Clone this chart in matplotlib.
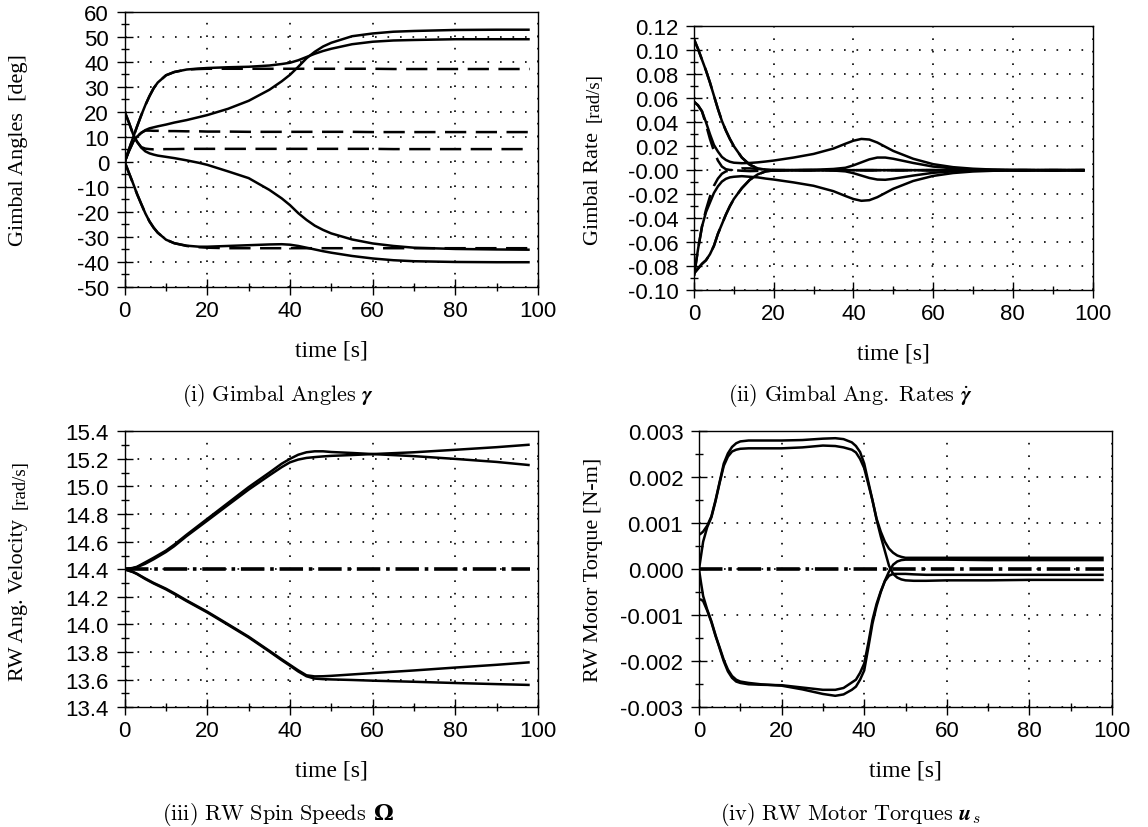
import matplotlib
matplotlib.use("Agg")
import matplotlib.pyplot as plt
from matplotlib.ticker import MultipleLocator, FormatStrFormatter

plt.rcParams['axes.unicode_minus'] = False
plt.rcParams['mathtext.fontset'] = 'cm'

# ---------------- data ----------------
# (i) gimbal angles [deg]
t_ang = [0, 1, 2, 3, 4, 5, 6, 7, 8, 10, 12, 15, 18, 20, 25, 30, 35, 38, 40, 42,
         44, 46, 48, 50, 55, 60, 65, 70, 80, 90, 98]
ang_s1 = [0, 4.8, 9.6, 14.2, 18.6, 22.7, 26.3, 29.4, 31.7, 34.6, 35.9, 36.9, 37.3, 37.5, 37.8, 38.0, 38.5, 39.1, 39.6, 40.6,
          41.9, 43.2, 44.3, 45.2, 47.0, 48.0, 48.5, 48.7, 49.0, 49.0, 49.0]
ang_s2 = [0, 4.2, 7.8, 10.1, 11.6, 12.7, 13.4, 13.8, 14.2, 14.9, 15.7, 16.7, 17.9, 18.7, 21.2, 24.4, 28.8, 32.2, 34.8, 38.0,
          41.4, 44.0, 46.1, 47.6, 50.2, 51.3, 52.0, 52.3, 52.7, 52.8, 52.8]
ang_s3 = [20, 15.8, 11.2, 8.0, 5.7, 4.2, 3.4, 2.9, 2.5, 2.0, 1.5, 0.6, -0.4, -1.2, -3.8, -6.5, -11.2, -14.6, -17.3, -20.5,
          -23.2, -25.5, -27.2, -28.6, -31.0, -32.6, -33.6, -34.3, -34.8, -35.0, -35.1]
ang_s4 = [0, -4.3, -8.5, -12.9, -16.8, -20.6, -23.8, -26.3, -28.3, -31.1, -32.5, -33.5, -33.9, -33.9, -33.6, -33.3, -33.0, -32.9, -33.1, -33.6,
          -34.3, -35.0, -35.7, -36.3, -37.6, -38.6, -39.3, -39.7, -40.0, -40.1, -40.1]
ang_d1 = [0, 4.8, 9.6, 14.2, 18.6, 22.7, 26.3, 29.4, 31.7, 34.6, 35.9, 36.9, 37.1, 37.2, 37.2, 37.2, 37.2, 37.2, 37.2, 37.2,
          37.2, 37.2, 37.2, 37.2, 37.2, 37.2, 37.1, 37.1, 37.1, 37.1, 37.1]
ang_d2 = [0, 4.2, 7.8, 10.1, 11.6, 12.5, 12.5, 12.4, 12.4, 12.3, 12.3, 12.2, 12.2, 12.1, 12.1, 12.0, 12.0, 12.0, 12.0, 12.0,
          12.0, 12.0, 12.0, 12.0, 12.0, 11.9, 11.9, 11.9, 11.9, 11.9, 11.9]
ang_d3 = [20, 15.8, 11.2, 8.0, 5.9, 5.3, 5.1, 5.0, 5.0, 5.1, 5.1, 5.2, 5.2, 5.2, 5.2, 5.2, 5.2, 5.2, 5.2, 5.2,
          5.2, 5.2, 5.2, 5.2, 5.2, 5.2, 5.1, 5.1, 5.1, 5.1, 5.1]
ang_d4 = [0, -4.3, -8.5, -12.9, -16.8, -20.6, -23.8, -26.3, -28.3, -31.1, -32.5, -33.6, -34.1, -34.3, -34.5, -34.5, -34.5, -34.5, -34.5, -34.5,
          -34.5, -34.5, -34.5, -34.5, -34.5, -34.5, -34.5, -34.5, -34.5, -34.5, -34.5]

# (ii) gimbal rates [rad/s]
t_rate = [0, 1, 2, 3, 4, 5, 6, 7, 8, 9, 10, 12, 14, 16, 18, 20, 25, 30, 35, 38,
          40, 42, 44, 46, 48, 50, 55, 60, 65, 70, 75, 80, 90, 98]
rate_a = [0.109, 0.101, 0.092, 0.083, 0.073, 0.062, 0.051, 0.041, 0.033, 0.026, 0.020, 0.0105, 0.0045, 0.0015, 0.0004, 0.0, 0.0, 0.0003, 0.001, 0.002,
          0.004, 0.0065, 0.009, 0.0105, 0.0105, 0.0095, 0.006, 0.003, 0.0015, 0.0005, 0.0002, 0.0, 0.0, 0.0]
rate_b = [0.057, 0.054, 0.049, 0.040, 0.030, 0.021, 0.0155, 0.011, 0.0085, 0.007, 0.0062, 0.0058, 0.006, 0.0065, 0.0072, 0.008, 0.0105, 0.0135, 0.018, 0.022,
          0.0245, 0.026, 0.0255, 0.023, 0.0195, 0.016, 0.0095, 0.005, 0.0025, 0.0012, 0.0005, 0.0002, 0.0, 0.0]
rate_c = [-0.088, -0.066, -0.047, -0.035, -0.027, -0.019, -0.0135, -0.0095, -0.0072, -0.006, -0.0055, -0.005, -0.0055, -0.006, -0.007, -0.0078, -0.0102, -0.013, -0.0175, -0.0215,
          -0.024, -0.0255, -0.025, -0.0225, -0.019, -0.0155, -0.009, -0.0048, -0.0024, -0.0011, -0.0005, -0.0002, 0.0, 0.0]
rate_d = [-0.086, -0.082, -0.078, -0.075, -0.070, -0.063, -0.053, -0.045, -0.037, -0.030, -0.024, -0.015, -0.008, -0.0035, -0.001, -0.0002, 0.0, 0.0, -0.0003, -0.001,
          -0.0025, -0.0045, -0.0065, -0.0078, -0.008, -0.0072, -0.0045, -0.0022, -0.001, -0.0004, -0.0001, 0.0, 0.0, 0.0]
rate_da = [0.109, 0.101, 0.092, 0.083, 0.073, 0.062, 0.051, 0.041, 0.033, 0.026, 0.020, 0.0105, 0.0045, 0.0015, 0.0004, 0.0, 0.0, 0.0, 0.0, 0.0,
           0.0, 0.0, 0.0, 0.0, 0.0, 0.0, 0.0, 0.0, 0.0, 0.0, 0.0, 0.0, 0.0, 0.0]
rate_db = [0.057, 0.054, 0.049, 0.038, 0.026, 0.016, 0.008, 0.003, 0.0008, 0.0002, 0.0, 0.0015, 0.0015, 0.001, 0.0005, 0.0002, 0.0, 0.0, 0.0, 0.0,
           0.0, 0.0, 0.0, 0.0, 0.0, 0.0, 0.0, 0.0, 0.0, 0.0, 0.0, 0.0, 0.0, 0.0]
rate_dc = [-0.088, -0.066, -0.047, -0.033, -0.022, -0.013, -0.007, -0.003, -0.001, -0.0003, 0.0, -0.0005, -0.0008, -0.0006, -0.0003, -0.0001, 0.0, 0.0, 0.0, 0.0,
           0.0, 0.0, 0.0, 0.0, 0.0, 0.0, 0.0, 0.0, 0.0, 0.0, 0.0, 0.0, 0.0, 0.0]
rate_dd = [-0.086, -0.082, -0.078, -0.075, -0.070, -0.063, -0.053, -0.045, -0.037, -0.030, -0.024, -0.015, -0.008, -0.0035, -0.001, -0.0002, 0.0, 0.0, 0.0, 0.0,
           0.0, 0.0, 0.0, 0.0, 0.0, 0.0, 0.0, 0.0, 0.0, 0.0, 0.0, 0.0, 0.0, 0.0]

# (iii) RW spin speeds [rad/s]
t_ws = [0, 2, 3, 5, 7, 10, 12, 15, 20, 25, 30, 35, 38, 40, 42, 44, 46, 48, 50, 55, 60, 70, 80, 90, 98]
ws_1 = [14.4, 14.41, 14.418, 14.45, 14.483, 14.535, 14.578, 14.65, 14.765, 14.88, 14.995, 15.1, 15.165, 15.2, 15.23, 15.248, 15.255, 15.255, 15.25, 15.243, 15.235, 15.22, 15.2, 15.178, 15.155]
ws_2 = [14.4, 14.408, 14.415, 14.44, 14.472, 14.525, 14.567, 14.64, 14.752, 14.865, 14.977, 15.08, 15.14, 15.175, 15.195, 15.207, 15.213, 15.218, 15.222, 15.228, 15.235, 15.248, 15.266, 15.285, 15.303]
ws_3 = [14.4, 14.38, 14.366, 14.33, 14.298, 14.255, 14.222, 14.17, 14.088, 13.998, 13.907, 13.805, 13.742, 13.702, 13.66, 13.625, 13.608, 13.604, 13.602, 13.598, 13.593, 13.585, 13.576, 13.568, 13.562]
ws_4 = [14.4, 14.382, 14.368, 14.334, 14.302, 14.26, 14.227, 14.175, 14.093, 14.003, 13.912, 13.81, 13.748, 13.708, 13.668, 13.632, 13.624, 13.625, 13.628, 13.638, 13.648, 13.667, 13.688, 13.708, 13.726]
t_ws_ref = [0, 98]
ws_ref = [14.4, 14.4]

# (iv) RW motor torques [N-m]
t_tq = [0, 0.5, 1, 2, 3, 4, 5, 6, 7, 8, 9, 10, 12, 15, 20, 25, 30, 33, 35, 37,
        38, 39, 40, 41, 42, 43, 44, 45, 46, 47, 48, 49, 50, 52, 55, 60, 70, 80, 90, 98]
tq_1 = [0.00075, 0.00078, 0.00082, 0.00095, 0.00115, 0.0015, 0.0019, 0.0023, 0.00252, 0.00266, 0.00274, 0.00278, 0.0028, 0.0028, 0.0028, 0.00281, 0.00284, 0.00285, 0.00283, 0.00276,
        0.00268, 0.00255, 0.0023, 0.0019, 0.0015, 0.0011, 0.00082, 0.0006, 0.00045, 0.00036, 0.0003, 0.00027, 0.00025, 0.00025, 0.00025, 0.00025, 0.00025, 0.00025, 0.00025, 0.00025]
tq_2 = [0.0, 0.0003, 0.0006, 0.00092, 0.00113, 0.00148, 0.00188, 0.00225, 0.00245, 0.00256, 0.0026, 0.00262, 0.00263, 0.00263, 0.00263, 0.00265, 0.00269, 0.00268, 0.00265, 0.0026,
        0.00254, 0.0024, 0.0022, 0.00185, 0.0015, 0.00108, 0.00072, 0.0004, 0.00008, -0.0001, -0.00018, -0.00022, -0.00024, -0.00025, -0.00025, -0.00024, -0.00024, -0.00023, -0.00023, -0.00023]
tq_3 = [-0.00065, -0.00066, -0.00069, -0.0009, -0.00115, -0.00145, -0.0017, -0.00197, -0.00218, -0.00232, -0.0024, -0.00244, -0.00247, -0.0025, -0.00253, -0.00261, -0.00271, -0.00275, -0.00272, -0.00262,
        -0.00255, -0.0024, -0.0022, -0.0017, -0.00118, -0.0008, -0.0005, -0.00025, -0.00005, 0.0001, 0.00017, 0.0002, 0.00021, 0.00021, 0.00021, 0.00021, 0.0002, 0.0002, 0.0002, 0.0002]
tq_4 = [0.0, -0.0003, -0.00058, -0.00088, -0.00113, -0.00143, -0.00172, -0.002, -0.00222, -0.00236, -0.00244, -0.00247, -0.0025, -0.00251, -0.00252, -0.00257, -0.00262, -0.00262, -0.00258, -0.00246,
        -0.0024, -0.00225, -0.00205, -0.0016, -0.0011, -0.00075, -0.00048, -0.00026, -0.00014, -0.0001, -0.0001, -0.0001, -0.0001, -0.00011, -0.00012, -0.00012, -0.00012, -0.00012, -0.00012, -0.00012]
t_tq_ref = [0, 98]
tq_ref = [0.0, 0.0]

xticks = [0, 20, 40, 60, 80, 100]

# y-label pieces: (text, fontsize)
ylabels = [[("Gimbal Angles  [deg]", 16)],
           [("Gimbal Rate", 16), ("[rad/s]", 13.5)],
           [("RW Ang. Velocity", 16), ("[rad/s]", 13.5)],
           [("RW Motor Torque [N-m]", 16)]]
# captions: (math text, trailing bold symbol drawn separately or None)
captions = [(r"$\mathrm{(i)\ Gimbal\ Angles}\ \boldsymbol{\gamma}$", None),
            (r"$\mathrm{(ii)\ Gimbal\ Ang.\ Rates}\ \dot{\boldsymbol{\gamma}}$", None),
            (r"$\mathrm{(iii)\ RW\ Spin\ Speeds}$", "Ω"),
            (r"$\mathrm{(iv)\ RW\ Motor\ Torques}\ \boldsymbol{u}_s$", None)]

# ---------------- figure ----------------
W, H = 1148, 828
fig = plt.figure(figsize=(W / 100, H / 100), dpi=100)

def rect(x0, x1, y0, y1):
    return [x0 / W, 1 - y1 / H, (x1 - x0) / W, (y1 - y0) / H]

boxes = [(124.7, 538, 12.7, 288.0), (694, 1092.5, 27, 291.3),
         (124.5, 538, 432.3, 708.3), (699, 1112, 432.3, 708.3)]
axs = [fig.add_axes(rect(*b)) for b in boxes]

SANS = "Liberation Sans"
SERIF = "Liberation Serif"
solid = dict(color="black", lw=1.8, solid_capstyle="butt", zorder=3)
dashed = dict(color="black", lw=1.8, ls=(0, (8.5, 3.8)), zorder=3)
dashdot = dict(color="black", lw=2.6, ls=(0, (6.5, 1.6, 1.0, 1.6)), zorder=3)

ax = axs[0]
for s in (ang_d1, ang_d2, ang_d3, ang_d4):
    ax.plot(t_ang, s, **dashed)
for s in (ang_s1, ang_s2, ang_s3, ang_s4):
    ax.plot(t_ang, s, **solid)
ax.set_ylim(-50, 60)
ax.yaxis.set_major_locator(MultipleLocator(10))
ax.yaxis.set_minor_locator(MultipleLocator(5))
ax.yaxis.set_major_formatter(FormatStrFormatter("%d"))

ax = axs[1]
for s in (rate_da, rate_db, rate_dc, rate_dd):
    ax.plot(t_rate, s, **dashed)
for s in (rate_a, rate_b, rate_c, rate_d):
    ax.plot(t_rate, s, **solid)
ax.set_ylim(-0.10, 0.12)
ax.yaxis.set_major_locator(MultipleLocator(0.02))
ax.yaxis.set_minor_locator(MultipleLocator(0.01))
ax.yaxis.set_major_formatter(FormatStrFormatter("%.2f"))

ax = axs[2]
ax.plot(t_ws_ref, ws_ref, **dashdot)
for s in (ws_1, ws_2, ws_3, ws_4):
    ax.plot(t_ws, s, **solid)
ax.set_ylim(13.4, 15.4)
ax.yaxis.set_major_locator(MultipleLocator(0.2))
ax.yaxis.set_minor_locator(MultipleLocator(0.1))
ax.yaxis.set_major_formatter(FormatStrFormatter("%.1f"))

ax = axs[3]
ax.plot(t_tq_ref, tq_ref, **dashdot)
for s in (tq_1, tq_2, tq_3, tq_4):
    ax.plot(t_tq, s, **solid)
ax.set_ylim(-0.003, 0.003)
ax.yaxis.set_major_locator(MultipleLocator(0.001))
ax.yaxis.set_minor_locator(MultipleLocator(0.0005))
ax.yaxis.set_major_formatter(FormatStrFormatter("%.3f"))

renderer = fig.canvas.get_renderer()

for i, ax in enumerate(axs):
    ax.set_xlim(0, 100)
    ax.set_xticks(xticks)
    ax.xaxis.set_minor_locator(MultipleLocator(10))
    ax.grid(True, which="major", color="black", lw=1.2, ls=(0, (1, 6.5)), zorder=1)
    ax.set_axisbelow(True)
    ax.tick_params(which="major", direction="inout", length=11.5, width=1.0, labelsize=16)
    ax.tick_params(which="minor", direction="inout", length=6, width=1.0)
    ax.tick_params(axis="x", which="major", pad=3.5)
    ax.tick_params(axis="y", which="major", pad=5.5)
    for sp in ax.spines.values():
        sp.set_linewidth(1.0)
    for lab in ax.get_xticklabels() + ax.get_yticklabels():
        lab.set_fontfamily(SANS)
    x0, x1, y0, y1 = boxes[i]
    cx = (x0 + x1) / 2
    cy = (y0 + y1) / 2

    # y label, possibly in two sizes, stacked bottom-to-top and centred on the axes
    ylx = 17.5 if i in (0, 2) else 592
    pieces = ylabels[i]
    texts = [fig.text(0, 0, s, rotation=90, ha="right", va="bottom", fontsize=fs, family=SERIF)
             for s, fs in pieces]
    heights = [t.get_window_extent(renderer).height for t in texts]
    gap = 10 if len(pieces) > 1 else 0
    total = sum(heights) + gap * (len(pieces) - 1)
    ystart = (H - cy) - total / 2
    xr = ylx + 11
    for t, h in zip(texts, heights):
        t.set_position((xr / W, ystart / H))
        ystart += h + gap

    fig.text(cx / W, 1 - (y1 + 63) / H, "time [s]", ha="center", va="center",
             fontsize=17, family=SERIF)

    # caption
    capx = 278 if i in (0, 2) else 850
    capy = 401 if i < 2 else 820  # baseline
    main, sym = captions[i]
    tmain = fig.text(0, 1 - capy / H, main, ha="left", va="baseline", fontsize=16)
    wmain = tmain.get_window_extent(renderer).width
    if sym is None:
        tmain.set_x((capx - wmain / 2) / W)
    else:
        tsym = fig.text(0, 1 - capy / H, sym, ha="left", va="baseline", fontsize=16,
                        family="DejaVu Serif", fontweight="bold")
        wsym = tsym.get_window_extent(renderer).width
        space = 7
        left = capx - (wmain + space + wsym) / 2
        tmain.set_x(left / W)
        tsym.set_x((left + wmain + space) / W)

fig.savefig("out.png", dpi=100)
